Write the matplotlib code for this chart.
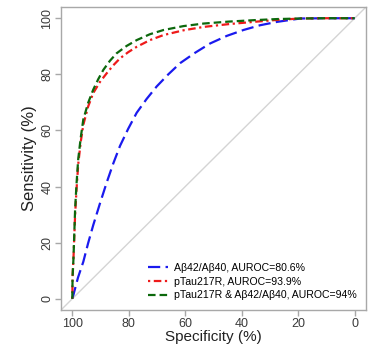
import numpy as np
import matplotlib
matplotlib.use('Agg')
import matplotlib.pyplot as plt

# ROC curve points (specificity %, sensitivity %)
abeta_spec = [100, 99.9, 99.6, 98, 96.1, 94.4, 92.6, 90.2, 87.8, 85.5, 83.1, 80.2, 77.2,
              73.7, 70.1, 66, 61.8, 56.5, 51.2, 45.3, 39.4, 33.5, 27.5, 19.3, 10, 0]
abeta_sens = [0, 0.5, 1.4, 7.5, 13.2, 19.8, 26.2, 34, 41.5, 48.2, 54.5, 60.6, 66.3,
              71.2, 75.7, 80, 84, 87.7, 91, 93.7, 95.8, 97.5, 98.7, 99.9, 100, 100]

ptau_spec = [100, 99.9, 99.6, 99.0, 98.5, 97.9, 97.0, 96.1, 94.4, 92.6, 90.2, 87.8, 85.5,
             83.1, 80.2, 77.2, 72.5, 67.7, 60.6, 53.5, 44.6, 35.8, 27.5, 19.3, 10, 0]
ptau_sens = [0, 8, 14, 30, 39, 48, 56, 62, 68.5, 73.3, 77.3, 80.4, 83.2,
             85.7, 87.9, 89.8, 92.2, 94, 95.7, 96.9, 97.9, 98.7, 99.4, 99.9, 100, 100]

combo_spec = [100, 99.9, 99.6, 99.0, 98.5, 97.9, 97.0, 96.1, 94.4, 92.6, 90.8, 89, 86.7,
              84.3, 80.8, 77.2, 72.5, 67.7, 60.6, 53.5, 44.6, 35.8, 27.5, 19.3, 10, 0]
combo_sens = [0, 8, 14, 32, 41, 49.8, 57.5, 63.9, 69.8, 74.5, 78.3, 81.6, 84.8,
              87.5, 90.1, 92.2, 94.3, 95.8, 97.2, 98.1, 98.8, 99.3, 99.7, 99.9, 100, 100]

labels = ['A\u03b242/A\u03b240, AUROC=80.6%',
          'pTau217R, AUROC=93.9%',
          'pTau217R & A\u03b242/A\u03b240, AUROC=94%']

plt.rcParams['font.family'] = ['Liberation Sans', 'DejaVu Sans']

fig = plt.figure(figsize=(3.78, 3.44), dpi=100)
ax = fig.add_axes([61/378, 34/344, 305/378, 303/344])

ax.axline((100, 0), (0, 100), color='#d4d4d4', lw=1.0, zorder=1)

ax.plot(abeta_spec, abeta_sens, color='#1a1aee', lw=1.6, dashes=(5.5, 2.4), label=labels[0])
ax.plot(ptau_spec, ptau_sens, color='#ee1a1a', lw=1.6, dashes=(1, 1.6, 3.4, 1.6), label=labels[1])
ax.plot(combo_spec, combo_sens, color='#0c680c', lw=1.6, dashes=(3.4, 1.8), label=labels[2])

ax.set_xlim(104, -4)
ax.set_ylim(-4, 104)
ax.set_xticks([100, 80, 60, 40, 20, 0])
ax.set_yticks([0, 20, 40, 60, 80, 100])
for s in ax.spines.values():
    s.set_color('#a8a8a8')
    s.set_linewidth(1)
ax.tick_params(colors='#a8a8a8', labelcolor='#3a3a3a', labelsize=9, length=4, width=1, pad=1.5)
for t in ax.get_yticklabels():
    t.set_rotation(90)
    t.set_va('center')

ax.set_xlabel('Specificity (%)', fontsize=11, color='#222222', labelpad=0)
ax.set_ylabel('Sensitivity (%)', fontsize=12, color='#222222', labelpad=3)

ax.legend(loc='lower right', bbox_to_anchor=(1.0, 0.0), fontsize=7.6, frameon=False,
          handlelength=1.9, handletextpad=0.5, labelspacing=0.35, borderaxespad=0.5)

fig.savefig('out.png', dpi=100)
